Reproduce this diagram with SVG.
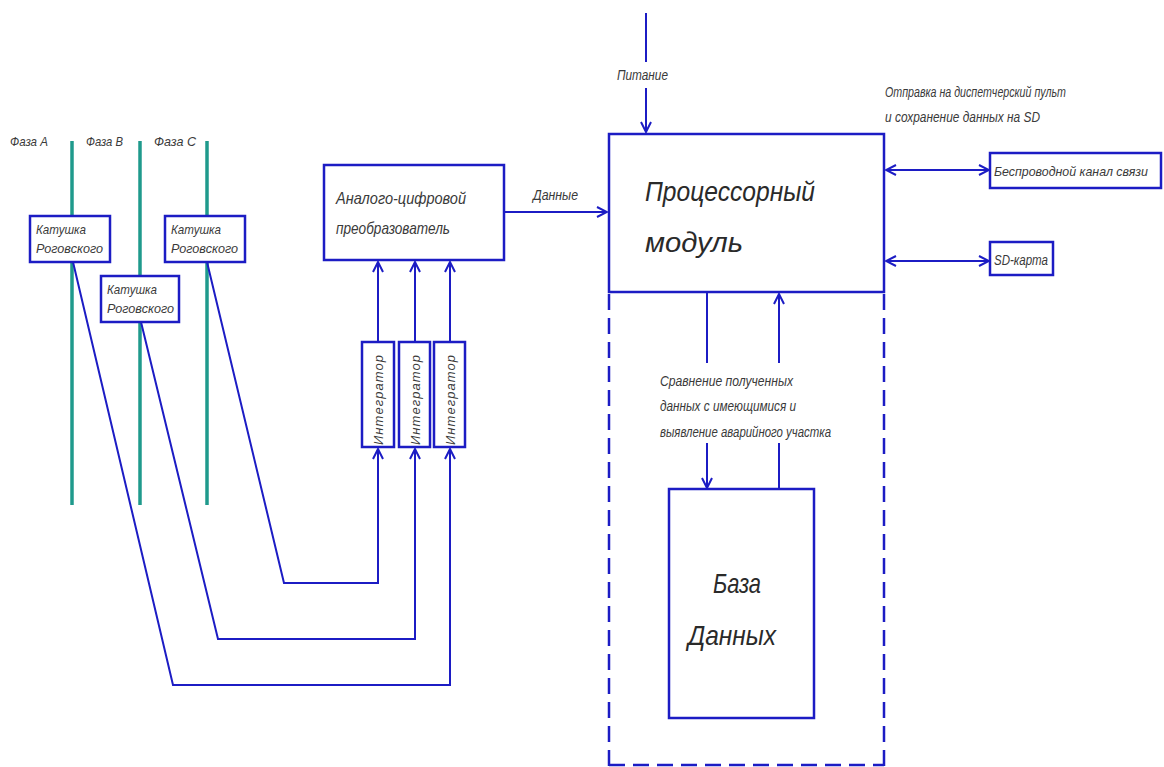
<svg xmlns="http://www.w3.org/2000/svg" width="1164" height="767" viewBox="0 0 1164 767">
  <style>
    .box { fill: #ffffff; stroke: #1c1cc4; stroke-width: 2.5; }
    .wire { fill: none; stroke: #1c1cc4; stroke-width: 2; }
    .phase { fill: none; stroke: #1f9a8c; stroke-width: 3.5; }
    .dash { fill: none; stroke: #1c1cc4; stroke-width: 2.5; stroke-dasharray: 16 8; }
    text { font-family: "Liberation Sans", "DejaVu Sans", sans-serif; font-style: italic; fill: #3a3a3a; }
    .s12 { font-size: 13px; }
    .s14 { font-size: 15px; }
    .s16 { font-size: 17px; }
    .s26 { font-size: 28px; fill: #2a2a2a; }
  </style>
  <defs>
    <marker id="arr" viewBox="0 0 12 12" refX="11" refY="6" markerWidth="12" markerHeight="12" markerUnits="userSpaceOnUse" orient="auto-start-reverse">
      <polyline points="1,1 11,6 1,11" fill="none" stroke="#1c1cc4" stroke-width="2"/>
    </marker>
  </defs>

  <rect width="1164" height="767" fill="#ffffff"/>

  <!-- Phase conductors -->
  <g id="phases">
    <line class="phase" x1="72" y1="141" x2="72" y2="505"/>
    <line class="phase" x1="140" y1="141" x2="140" y2="505"/>
    <line class="phase" x1="207" y1="141" x2="207" y2="505"/>
    <text class="s12" x="10" y="146" textLength="38" lengthAdjust="spacingAndGlyphs">Фаза А</text>
    <text class="s12" x="86" y="146" textLength="37" lengthAdjust="spacingAndGlyphs">Фаза В</text>
    <text class="s12" x="154" y="146" textLength="42" lengthAdjust="spacingAndGlyphs">Фаза С</text>
  </g>

  <!-- Connectors -->
  <g id="connectors">
    <!-- coils to integrators -->
    <polyline class="wire" points="73,262 173,685 450,685 450,449" marker-end="url(#arr)"/>
    <polyline class="wire" points="141,322 218,639 415,639 415,449" marker-end="url(#arr)"/>
    <polyline class="wire" points="207,262 284,583 378,583 378,449" marker-end="url(#arr)"/>
    <!-- integrators to ADC -->
    <line class="wire" x1="378" y1="342" x2="378" y2="262" marker-end="url(#arr)"/>
    <line class="wire" x1="415" y1="342" x2="415" y2="262" marker-end="url(#arr)"/>
    <line class="wire" x1="450" y1="342" x2="450" y2="262" marker-end="url(#arr)"/>
    <!-- ADC to processor -->
    <line class="wire" x1="504" y1="212" x2="607" y2="212" marker-end="url(#arr)"/>
    <!-- power supply -->
    <line class="wire" x1="646" y1="13" x2="646" y2="62"/>
    <line class="wire" x1="646" y1="88" x2="646" y2="132" marker-end="url(#arr)"/>
    <!-- processor to peripherals -->
    <line class="wire" x1="886" y1="170" x2="989" y2="170" marker-start="url(#arr)" marker-end="url(#arr)"/>
    <line class="wire" x1="886" y1="261" x2="989" y2="261" marker-start="url(#arr)" marker-end="url(#arr)"/>
    <!-- processor <-> database -->
    <line class="wire" x1="707" y1="292" x2="707" y2="363"/>
    <line class="wire" x1="707" y1="443" x2="707" y2="488" marker-end="url(#arr)"/>
    <line class="wire" x1="779" y1="489" x2="779" y2="443"/>
    <line class="wire" x1="779" y1="363" x2="779" y2="294" marker-end="url(#arr)"/>
  </g>

  <!-- Rogowski coils -->
  <g id="coil-a">
    <rect class="box" x="30" y="216" width="80" height="46"/>
    <text class="s12" x="36" y="234" textLength="50" lengthAdjust="spacingAndGlyphs">Катушка</text>
    <text class="s12" x="36" y="253" textLength="67" lengthAdjust="spacingAndGlyphs">Роговского</text>
  </g>
  <g id="coil-b">
    <rect class="box" x="101" y="276" width="78" height="46"/>
    <text class="s12" x="107" y="294" textLength="50" lengthAdjust="spacingAndGlyphs">Катушка</text>
    <text class="s12" x="107" y="313" textLength="67" lengthAdjust="spacingAndGlyphs">Роговского</text>
  </g>
  <g id="coil-c">
    <rect class="box" x="165" y="216" width="80" height="46"/>
    <text class="s12" x="171" y="234" textLength="50" lengthAdjust="spacingAndGlyphs">Катушка</text>
    <text class="s12" x="171" y="253" textLength="67" lengthAdjust="spacingAndGlyphs">Роговского</text>
  </g>

  <!-- Integrators -->
  <g id="integrator-1">
    <rect class="box" x="362" y="342" width="32" height="105"/>
    <text class="s12" transform="translate(383,445) rotate(-90)" textLength="90" lengthAdjust="spacing">Интегратор</text>
  </g>
  <g id="integrator-2">
    <rect class="box" x="399" y="342" width="31" height="105"/>
    <text class="s12" transform="translate(420,445) rotate(-90)" textLength="90" lengthAdjust="spacing">Интегратор</text>
  </g>
  <g id="integrator-3">
    <rect class="box" x="434" y="342" width="31" height="105"/>
    <text class="s12" transform="translate(455,445) rotate(-90)" textLength="90" lengthAdjust="spacing">Интегратор</text>
  </g>

  <!-- ADC -->
  <g id="adc">
    <rect class="box" x="324" y="165" width="180" height="95"/>
    <text class="s16" x="336" y="204" textLength="130" lengthAdjust="spacingAndGlyphs">Аналого-цифровой</text>
    <text class="s16" x="336" y="234" textLength="114" lengthAdjust="spacingAndGlyphs">преобразователь</text>
  </g>
  <text class="s14" x="533" y="200" textLength="45" lengthAdjust="spacingAndGlyphs">Данные</text>

  <text class="s14" x="617" y="80" textLength="51" lengthAdjust="spacingAndGlyphs">Питание</text>

  <!-- Processor module with dashed enclosure -->
  <g id="processor">
    <rect class="box" x="609" y="134" width="275" height="158"/>
    <text class="s26" x="645" y="201" textLength="170" lengthAdjust="spacingAndGlyphs">Процессорный</text>
    <text class="s26" x="645" y="252" textLength="98" lengthAdjust="spacingAndGlyphs">модуль</text>
    <line class="dash" x1="609" y1="294" x2="609" y2="767"/>
    <line class="dash" x1="884" y1="294" x2="884" y2="767"/>
    <line class="dash" x1="609" y1="765" x2="884" y2="765"/>
  </g>

  <text class="s14" x="660" y="386" textLength="133" lengthAdjust="spacingAndGlyphs">Сравнение полученных</text>
  <text class="s14" x="660" y="411" textLength="136" lengthAdjust="spacingAndGlyphs">данных с имеющимися и</text>
  <text class="s14" x="660" y="437" textLength="171" lengthAdjust="spacingAndGlyphs">выявление аварийного участка</text>

  <!-- Database -->
  <g id="database">
    <rect class="box" x="669" y="489" width="145" height="229"/>
    <text class="s26" x="713" y="593" textLength="48" lengthAdjust="spacingAndGlyphs">База</text>
    <text class="s26" x="688" y="645" textLength="88" lengthAdjust="spacingAndGlyphs">Данных</text>
  </g>

  <text class="s14" x="885" y="97" textLength="181" lengthAdjust="spacingAndGlyphs">Отправка на диспетчерский пульт</text>
  <text class="s14" x="885" y="122" textLength="155" lengthAdjust="spacingAndGlyphs">и сохранение данных на SD</text>

  <!-- Wireless channel -->
  <g id="wireless">
    <rect class="box" x="990" y="153" width="171" height="35"/>
    <text x="994" y="176" font-size="13" textLength="154" lengthAdjust="spacingAndGlyphs">Беспроводной канал связи</text>
  </g>

  <!-- SD card -->
  <g id="sd-card">
    <rect class="box" x="990" y="242" width="63" height="33"/>
    <text class="s14" x="994" y="265" textLength="54" lengthAdjust="spacingAndGlyphs">SD-карта</text>
  </g>
</svg>
